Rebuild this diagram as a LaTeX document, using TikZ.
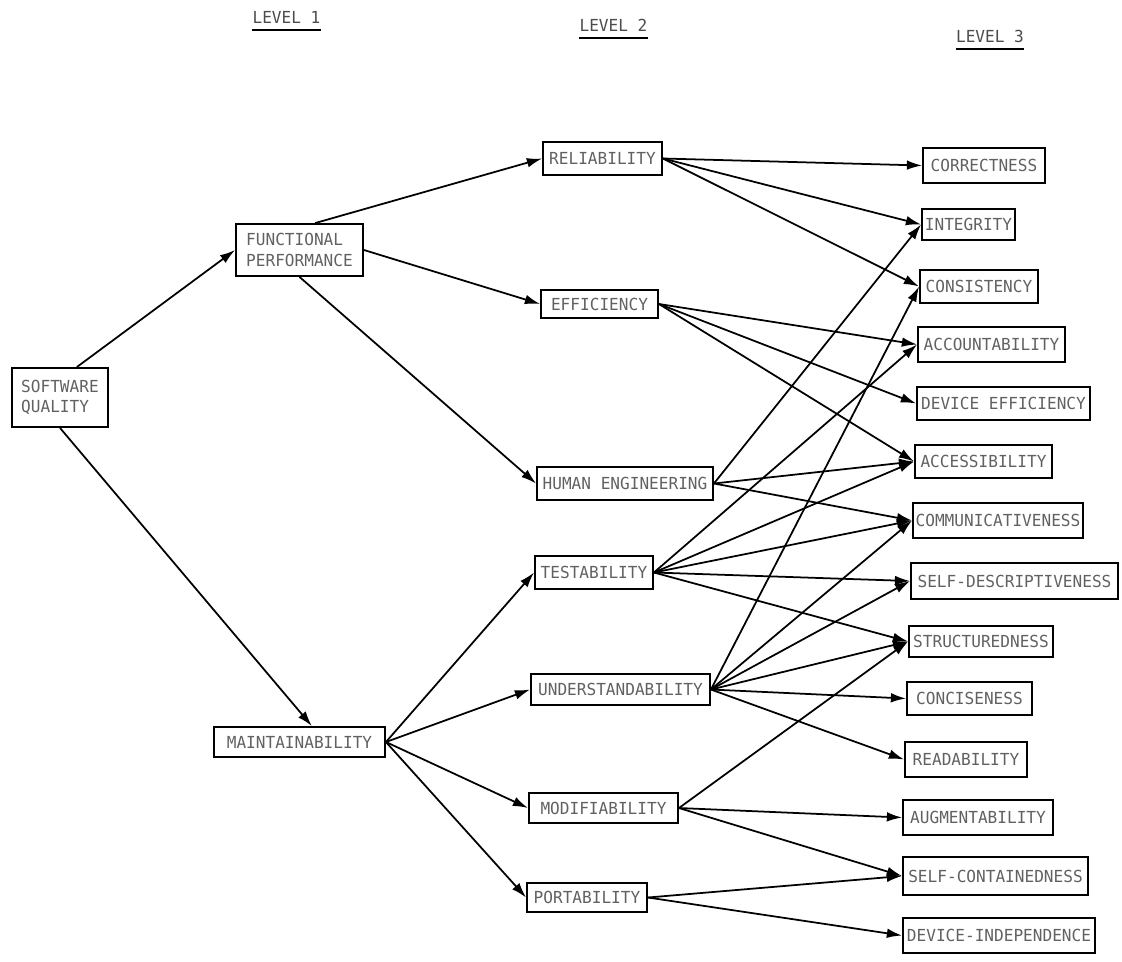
\documentclass[tikz,border=0pt]{standalone}
\usepackage{fontspec}
\newfontfamily\tw[FakeStretch=0.97]{DejaVu Sans Mono}
\usetikzlibrary{arrows.meta}
\begin{document}
\begin{tikzpicture}[x=0.025cm,y=-0.025cm,
  box/.style={draw=black,line width=1.3pt,inner sep=0pt,text=black!62,
    font=\tw\fontsize{11.8}{14.5}\selectfont},
  lvl/.style={inner sep=0pt,text=black!70,font=\tw\fontsize{11.8}{14.5}\selectfont},
  uline/.style={line width=1.5pt},
  link/.style={line width=1.25pt,-{Latex[length=3.8mm,width=2.4mm]}}]
\useasboundingbox (0,0) rectangle (1122,961);
% level labels
\node[lvl] (l1) at (286.5,17) {LEVEL 1};
\node[lvl] (l2) at (613.5,25) {LEVEL 2};
\node[lvl] (l3) at (990,36) {LEVEL 3};
\draw[uline] ([yshift=-1.6mm]l1.south west) -- ([yshift=-1.6mm]l1.south east);
\draw[uline] ([yshift=-1.6mm]l2.south west) -- ([yshift=-1.6mm]l2.south east);
\draw[uline] ([yshift=-1.6mm]l3.south west) -- ([yshift=-1.6mm]l3.south east);
% level 0/1
\node[box,align=left,minimum width=24mm,minimum height=14.75mm] (sq) at (60,397.5) {SOFTWARE\\QUALITY};
\node[box,align=left,minimum width=31.75mm,minimum height=13mm] (fp) at (299.5,250) {FUNCTIONAL\\PERFORMANCE};
\node[box,minimum width=42.75mm,minimum height=7.5mm] (mt) at (299.5,742) {MAINTAINABILITY};
% level 2
\node[box,minimum width=29.75mm,minimum height=8.25mm] (rel) at (602.5,158.5) {RELIABILITY};
\node[box,minimum width=29.25mm,minimum height=7mm] (eff) at (599.5,304) {EFFICIENCY};
\node[box,minimum width=44mm,minimum height=8.25mm] (he) at (625,483.5) {HUMAN ENGINEERING};
\node[box,minimum width=29.5mm,minimum height=8.25mm] (tes) at (594,572.5) {TESTABILITY};
\node[box,minimum width=44.75mm,minimum height=7.75mm] (und) at (620.5,689.5) {UNDERSTANDABILITY};
\node[box,minimum width=37.25mm,minimum height=7.5mm] (mod) at (603.5,808) {MODIFIABILITY};
\node[box,minimum width=30mm,minimum height=7.25mm] (por) at (587,897.5) {PORTABILITY};
% level 3
\node[box,minimum width=30.5mm,minimum height=8.75mm] (cor) at (984,165.5) {CORRECTNESS};
\node[box,minimum width=23.25mm,minimum height=7.75mm] (int) at (968.5,224.5) {INTEGRITY};
\node[box,minimum width=29.5mm,minimum height=8.25mm] (con) at (979,286.5) {CONSISTENCY};
\node[box,minimum width=36.75mm,minimum height=8.75mm] (acc) at (991.5,344.5) {ACCOUNTABILITY};
\node[box,minimum width=43.25mm,minimum height=8.25mm] (dev) at (1003.5,403.5) {DEVICE EFFICIENCY};
\node[box,minimum width=34.25mm,minimum height=8.25mm] (acs) at (983.5,461.5) {ACCESSIBILITY};
\node[box,minimum width=42.5mm,minimum height=8.75mm] (com) at (998,520.5) {COMMUNICATIVENESS};
\node[box,minimum width=51.75mm,minimum height=9mm] (sd) at (1014.5,581) {SELF-DESCRIPTIVENESS};
\node[box,minimum width=36mm,minimum height=7.75mm] (str) at (981,641.5) {STRUCTUREDNESS};
\node[box,minimum width=31.25mm,minimum height=8.25mm] (cnc) at (969.5,698.5) {CONCISENESS};
\node[box,minimum width=30.5mm,minimum height=8.75mm] (rea) at (966,759.5) {READABILITY};
\node[box,minimum width=37.5mm,minimum height=8.75mm] (aug) at (978,817.5) {AUGMENTABILITY};
\node[box,minimum width=46.25mm,minimum height=9.5mm] (sc) at (995.5,876) {SELF-CONTAINEDNESS};
\node[box,minimum width=48mm,minimum height=8.75mm] (di) at (999,935.5) {DEVICE-INDEPENDENCE};
% level 0 -> 1
\draw[link] ([xshift=4.2mm]sq.north) -- (fp.west);
\draw[link] (sq.south) -- ([xshift=3.1mm]mt.north);
% level 1 -> 2
\draw[link] ([xshift=3.9mm]fp.north) -- (rel.west);
\draw[link] (fp.east) -- (eff.west);
\draw[link] (fp.south) -- (he.west);
\draw[link] (mt.east) -- (tes.west);
\draw[link] (mt.east) -- (und.west);
\draw[link] (mt.east) -- (mod.west);
\draw[link] (mt.east) -- (por.west);
% level 2 -> 3
\foreach \t in {cor,int,con} \draw[link] (rel.east) -- (\t.west);
\foreach \t in {acc,dev,acs} \draw[link] (eff.east) -- (\t.west);
\foreach \t in {int,acs,com} \draw[link] (he.east) -- (\t.west);
\foreach \t in {acc,acs,com,sd,str} \draw[link] (tes.east) -- (\t.west);
\foreach \t in {con,com,sd,str,cnc,rea} \draw[link] (und.east) -- (\t.west);
\foreach \t in {str,aug,sc} \draw[link] (mod.east) -- (\t.west);
\foreach \t in {sc,di} \draw[link] (por.east) -- (\t.west);
\end{tikzpicture}
\end{document}
